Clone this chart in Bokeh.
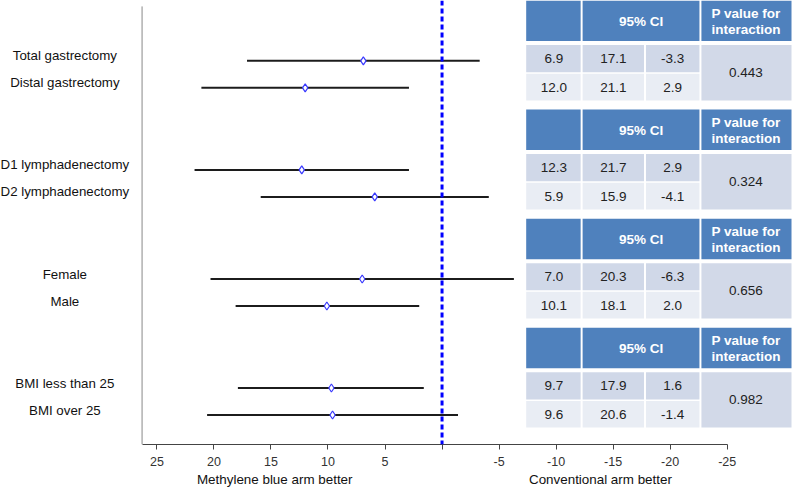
from bokeh.plotting import figure
from bokeh.models import Range1d, FixedTicker, Span, LinearAxis
from bokeh.layouts import column
from bokeh.core.properties import value
from bokeh.embed import file_html
from bokeh.resources import INLINE

# ---------------- data ----------------
row_labels = ["Total gastrectomy", "Distal gastrectomy",
              "D1 lymphadenectomy", "D2 lymphadenectomy",
              "Female", "Male",
              "BMI less than 25", "BMI over 25"]
estimate = [6.9, 12.0, 12.3, 5.9, 7.0, 10.1, 9.7, 9.6]
ci_upper = [17.1, 21.1, 21.7, 15.9, 20.3, 18.1, 17.9, 20.6]
ci_lower = [-3.3, 2.9, 2.9, -4.1, -6.3, 2.0, 1.6, -1.4]
p_values = ["0.443", "0.324", "0.656", "0.982"]
tick_values = [25, 20, 15, 10, 5, 0, -5, -10, -15, -20, -25]
tick_labels = ["25", "20", "15", "10", "5", "", "-5", "-10", "-15", "-20", "-25"]
header_ci = "95% CI"
header_p = ["P value for", "interaction"]
left_title = "Methylene blue arm better"
right_title = "Conventional arm better"

# ---------------- layout ----------------
GROUP_STEP = 110.3
ROW0 = 62.0
ROW_STEP = 27.3
y_row = [ROW0 + GROUP_STEP * (i // 2) + ROW_STEP * (i % 2) for i in range(len(row_labels))]

PX_PER_UNIT = 11.52
ZERO_PX = 446.0
AXIS_LEFT_PX = 143.0
def px_to_val(px):
    return (ZERO_PX - px) / PX_PER_UNIT

FONT = "Liberation Sans"
HEAD_BLUE = "#4F81BD"
ROW1_C = "#D0D8E8"
ROW2_C = "#E9EDF4"
PCELL_C = "#D2D9E8"

W = 792
FRAME_H = 444
AXIS_H = 27
BOTTOM_H = 16

p = figure(width=W, height=FRAME_H + AXIS_H, output_backend="svg", toolbar_location=None, tools="",
           x_range=Range1d(px_to_val(0), px_to_val(800)), y_range=Range1d(450, 1),
           min_border_left=0, min_border_right=0, min_border_top=0, min_border_bottom=AXIS_H,
           x_axis_location=None, y_axis_location=None)
p.outline_line_color = None
p.xgrid.visible = False
p.ygrid.visible = False
p.extra_x_ranges = {"px": Range1d(0, 800)}

# x axis
xaxis = LinearAxis(ticker=FixedTicker(ticks=tick_values),
                   major_label_overrides={float(v): l for v, l in zip(tick_values, tick_labels)},
                   bounds=(-25, px_to_val(AXIS_LEFT_PX)))
xaxis.axis_line_color = "#444444"
xaxis.axis_line_width = 1.2
xaxis.major_tick_line_color = "#444444"
xaxis.major_tick_out = 5
xaxis.major_tick_in = 0
xaxis.minor_tick_out = 0
xaxis.minor_tick_in = 0
xaxis.major_label_standoff = 7
xaxis.major_label_text_font = FONT
xaxis.major_label_text_font_size = "12.5px"
xaxis.major_label_text_color = "#333333"
p.add_layout(xaxis, "below")

# left vertical axis line
p.segment(x0=[AXIS_LEFT_PX], x1=[AXIS_LEFT_PX], y0=[7], y1=[450], x_range_name="px",
          line_color="#888888", line_width=1)

# reference line
p.add_layout(Span(location=0, dimension="height", line_color="#0000FF",
                  line_width=3, line_dash="5 3"))

# forest
p.segment(x0=ci_upper, x1=ci_lower, y0=y_row, y1=y_row, line_color="#1c1c1c", line_width=2)
p.scatter(x=estimate, y=y_row, marker="diamond", size=8, fill_color="white",
          line_color="#3a3aff", line_width=1.2)

# row labels
p.text(x=[65] * len(row_labels), y=[yy - 5 for yy in y_row], text=row_labels, x_range_name="px",
       text_align="center", text_baseline="middle", text_font=value(FONT),
       text_font_size="13.3px", text_color="#111111")

# ---------------- tables ----------------
qL, qR, qT, qB, qC = [], [], [], [], []
tx, ty, tt = [], [], []
hx, hy, ht = [], [], []
for g in range(len(p_values)):
    t0 = 1.0 + GROUP_STEP * g
    for (l, r) in [(531, 586), (588, 706), (708, 799)]:
        qL.append(l); qR.append(r); qT.append(t0); qB.append(t0 + 41); qC.append(HEAD_BLUE)
    hx += [647, 753, 753]
    hy += [t0 + 21, t0 + 13, t0 + 29]
    ht += [header_ci, header_p[0], header_p[1]]
    for r_i, (rt, rb, col) in enumerate([(t0 + 45, t0 + 72.5, ROW1_C), (t0 + 74, t0 + 101, ROW2_C)]):
        for (l, r) in [(531, 586), (588, 650), (652, 706)]:
            qL.append(l); qR.append(r); qT.append(rt); qB.append(rb); qC.append(col)
        idx = 2 * g + r_i
        cy = (rt + rb) / 2
        tx += [559, 619, 679]
        ty += [cy, cy, cy]
        tt += [f"{estimate[idx]:.1f}", f"{ci_upper[idx]:.1f}", f"{ci_lower[idx]:.1f}"]
    qL.append(708); qR.append(799); qT.append(t0 + 45); qB.append(t0 + 101); qC.append(PCELL_C)
    tx.append(753); ty.append(t0 + 73); tt.append(p_values[g])

p.quad(left=qL, right=qR, top=qT, bottom=qB, fill_color=qC, line_color=None, x_range_name="px")
p.text(x=tx, y=ty, text=tt, x_range_name="px", text_align="center", text_baseline="middle",
       text_font=value(FONT), text_font_size="13.5px", text_color="#222222")
p.text(x=hx, y=hy, text=ht, x_range_name="px", text_align="center", text_baseline="middle",
       text_font=value(FONT), text_font_size="13.5px", text_font_style="bold",
       text_color="white")

# ---------------- bottom titles ----------------
b = figure(width=W, height=BOTTOM_H, output_backend="svg", toolbar_location=None, tools="",
           x_range=Range1d(0, 800), y_range=Range1d(0, 1),
           min_border_left=0, min_border_right=0, min_border_top=0, min_border_bottom=0,
           x_axis_location=None, y_axis_location=None)
b.outline_line_color = None
b.xgrid.visible = False
b.ygrid.visible = False
b.text(x=[277, 606], y=[0.5, 0.5], text=[left_title, right_title], text_align="center",
       text_baseline="middle", text_font=value(FONT), text_font_size="13.4px",
       text_color="#111111")

open("out.html", "w").write(file_html(column(p, b, spacing=0), INLINE))
